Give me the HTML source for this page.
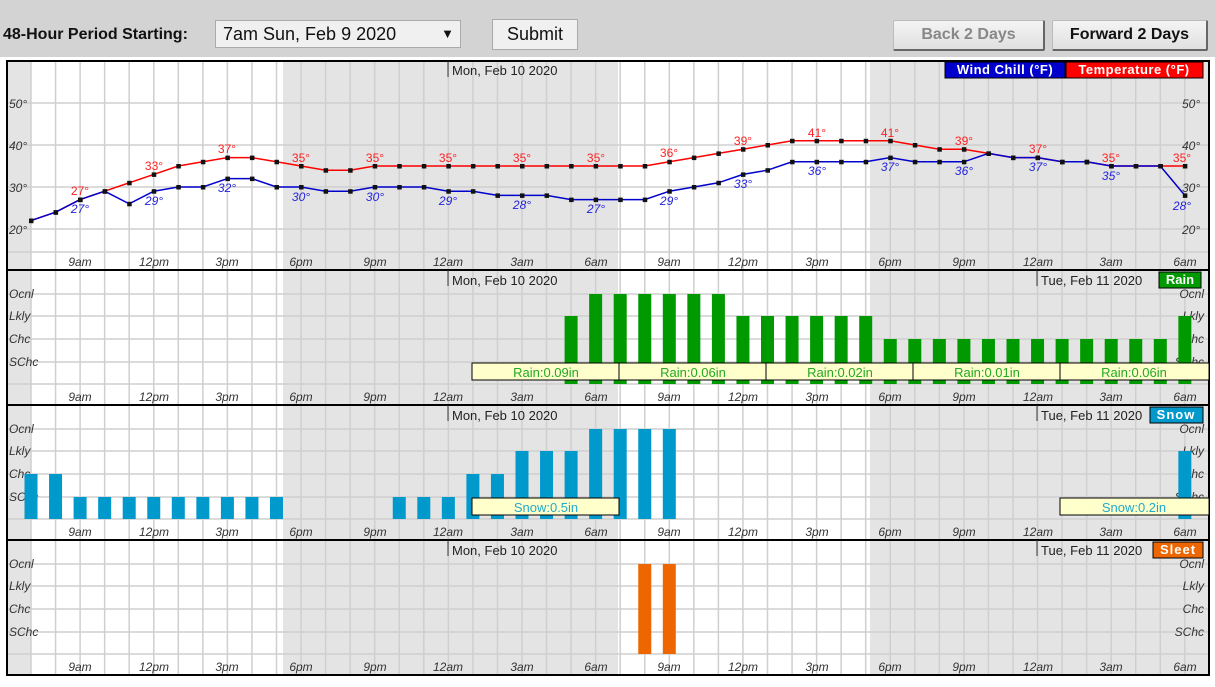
<!DOCTYPE html>
<html><head><meta charset="utf-8"><style>
body{margin:0;width:1215px;height:687px;background:#fff;font-family:"Liberation Sans",sans-serif;overflow:hidden;position:relative}
#top{position:absolute;left:0;top:0;width:1215px;height:57px;background:#d3d3d3}
.lbl{position:absolute;left:3px;top:26px;font-weight:bold;font-size:16px;color:#111}
.sel{position:absolute;left:215px;top:20px;width:246px;height:28px;border:1px solid #aaa;background:#f0f0f0;box-sizing:border-box;font-size:18px;padding:3px 0 0 7px;color:#111}
.sel span{position:absolute;right:6px;top:5px;font-size:13px}
.btn{position:absolute;box-sizing:border-box;border:1px solid #aaa;background:#f0f0f0;font-size:18px;text-align:center;color:#111}
.nb{position:absolute;box-sizing:border-box;border:1px solid #bbb;border-right:2px solid #666;border-bottom:2px solid #666;background:linear-gradient(#f4f4f4,#e0e0e0);font-size:16px;text-align:center;font-weight:bold;padding-top:5px;border-radius:2px}
svg{position:absolute;left:0;top:0}
svg text{font-family:"Liberation Sans",sans-serif}
.ax{font-size:12px;font-style:italic;fill:#333}
.dt{font-size:13px;fill:#222}
</style></head><body>
<div id="top">
<div class="lbl">48-Hour Period Starting:</div>
<div class="sel">7am Sun, Feb 9 2020<span>▼</span></div>
<div class="btn" style="left:492px;top:19px;width:86px;height:31px;padding-top:4px">Submit</div>
<div class="nb" style="left:893px;top:20px;width:152px;height:31px;color:#888">Back 2 Days</div>
<div class="nb" style="left:1052px;top:20px;width:156px;height:31px;color:#111">Forward 2 Days</div>
</div>
<svg id="s" width="1215" height="687" xmlns="http://www.w3.org/2000/svg">
<g id="bg"></g>
<g id="fg"></g>
<g class="ax">
<text x="9" y="108">50°</text><text x="9" y="150">40°</text><text x="9" y="192">30°</text><text x="9" y="234">20°</text>
<text x="1182" y="108">50°</text><text x="1182" y="150">40°</text><text x="1182" y="192">30°</text><text x="1182" y="234">20°</text>
</g>
<g class="ax" text-anchor="middle">
<text x="80" y="266">9am</text><text x="154" y="266">12pm</text><text x="227" y="266">3pm</text><text x="301" y="266">6pm</text><text x="375" y="266">9pm</text><text x="448" y="266">12am</text><text x="522" y="266">3am</text><text x="596" y="266">6am</text><text x="669" y="266">9am</text><text x="743" y="266">12pm</text><text x="817" y="266">3pm</text><text x="890" y="266">6pm</text><text x="964" y="266">9pm</text><text x="1038" y="266">12am</text><text x="1111" y="266">3am</text><text x="1185" y="266">6am</text>
<text x="80" y="401">9am</text><text x="154" y="401">12pm</text><text x="227" y="401">3pm</text><text x="301" y="401">6pm</text><text x="375" y="401">9pm</text><text x="448" y="401">12am</text><text x="522" y="401">3am</text><text x="596" y="401">6am</text><text x="669" y="401">9am</text><text x="743" y="401">12pm</text><text x="817" y="401">3pm</text><text x="890" y="401">6pm</text><text x="964" y="401">9pm</text><text x="1038" y="401">12am</text><text x="1111" y="401">3am</text><text x="1185" y="401">6am</text>
<text x="80" y="536">9am</text><text x="154" y="536">12pm</text><text x="227" y="536">3pm</text><text x="301" y="536">6pm</text><text x="375" y="536">9pm</text><text x="448" y="536">12am</text><text x="522" y="536">3am</text><text x="596" y="536">6am</text><text x="669" y="536">9am</text><text x="743" y="536">12pm</text><text x="817" y="536">3pm</text><text x="890" y="536">6pm</text><text x="964" y="536">9pm</text><text x="1038" y="536">12am</text><text x="1111" y="536">3am</text><text x="1185" y="536">6am</text>
<text x="80" y="671">9am</text><text x="154" y="671">12pm</text><text x="227" y="671">3pm</text><text x="301" y="671">6pm</text><text x="375" y="671">9pm</text><text x="448" y="671">12am</text><text x="522" y="671">3am</text><text x="596" y="671">6am</text><text x="669" y="671">9am</text><text x="743" y="671">12pm</text><text x="817" y="671">3pm</text><text x="890" y="671">6pm</text><text x="964" y="671">9pm</text><text x="1038" y="671">12am</text><text x="1111" y="671">3am</text><text x="1185" y="671">6am</text>
</g>
<g class="ax">
<text x="9" y="298">Ocnl</text><text x="9" y="320">Lkly</text><text x="9" y="343">Chc</text><text x="9" y="366">SChc</text>
<text x="9" y="433">Ocnl</text><text x="9" y="455">Lkly</text><text x="9" y="478">Chc</text><text x="9" y="501">SChc</text>
<text x="9" y="568">Ocnl</text><text x="9" y="590">Lkly</text><text x="9" y="613">Chc</text><text x="9" y="636">SChc</text>
</g>
<g class="ax" text-anchor="end">
<text x="1204" y="298">Ocnl</text><text x="1204" y="320">Lkly</text><text x="1204" y="343">Chc</text><text x="1204" y="366">SChc</text>
<text x="1204" y="433">Ocnl</text><text x="1204" y="455">Lkly</text><text x="1204" y="478">Chc</text><text x="1204" y="501">SChc</text>
<text x="1204" y="568">Ocnl</text><text x="1204" y="590">Lkly</text><text x="1204" y="613">Chc</text><text x="1204" y="636">SChc</text>
</g>
<g id="bars"></g>
<g id="lines"></g>
<g font-size="12" fill="#ff2222" text-anchor="middle">
<text x="80" y="195">27°</text><text x="154" y="170">33°</text><text x="227" y="153">37°</text><text x="301" y="162">35°</text><text x="375" y="162">35°</text><text x="448" y="162">35°</text><text x="522" y="162">35°</text><text x="596" y="162">35°</text><text x="669" y="157">36°</text><text x="743" y="145">39°</text><text x="817" y="137">41°</text><text x="890" y="137">41°</text><text x="964" y="145">39°</text><text x="1038" y="153">37°</text><text x="1111" y="162">35°</text><text x="1182" y="162">35°</text>
</g>
<g font-size="12" fill="#2222dd" text-anchor="middle" font-style="italic">
<text x="80" y="213">27°</text><text x="154" y="205">29°</text><text x="227" y="192">32°</text><text x="301" y="201">30°</text><text x="375" y="201">30°</text><text x="448" y="205">29°</text><text x="522" y="209">28°</text><text x="596" y="213">27°</text><text x="669" y="205">29°</text><text x="743" y="188">33°</text><text x="817" y="175">36°</text><text x="890" y="171">37°</text><text x="964" y="175">36°</text><text x="1038" y="171">37°</text><text x="1111" y="180">35°</text><text x="1182" y="210">28°</text>
</g>
<g class="dt">
<text x="452" y="75">Mon, Feb 10 2020</text>
<text x="452" y="285">Mon, Feb 10 2020</text><text x="1041" y="285">Tue, Feb 11 2020</text>
<text x="452" y="420">Mon, Feb 10 2020</text><text x="1041" y="420">Tue, Feb 11 2020</text>
<text x="452" y="555">Mon, Feb 10 2020</text><text x="1041" y="555">Tue, Feb 11 2020</text>
</g>
<g id="boxes"></g>
<g font-size="13" text-anchor="middle" fill="#22aa22">
<text x="546" y="377">Rain:0.09in</text><text x="693" y="377">Rain:0.06in</text><text x="840" y="377">Rain:0.02in</text><text x="987" y="377">Rain:0.01in</text><text x="1134" y="377">Rain:0.06in</text>
</g>
<g font-size="13" text-anchor="middle" fill="#22aacc">
<text x="546" y="512">Snow:0.5in</text><text x="1134" y="512">Snow:0.2in</text>
</g>
<rect x="945" y="62" width="120" height="16" fill="#0000cc" stroke="#000"/>
<rect x="1066" y="62" width="137" height="16" fill="#ff0000" stroke="#000"/>
<text x="1005" y="74" font-size="13" font-weight="bold" fill="#fff" text-anchor="middle" letter-spacing="0.5">Wind Chill (°F)</text>
<text x="1134" y="74" font-size="13" font-weight="bold" fill="#fff" text-anchor="middle" letter-spacing="0.5">Temperature (°F)</text>
<rect x="1159" y="272" width="42" height="16" fill="#009900" stroke="#000"/>
<text x="1180" y="284" font-size="13" font-weight="bold" fill="#fff" text-anchor="middle">Rain</text>
<rect x="1150" y="407" width="53" height="16" fill="#0099cc" stroke="#000"/>
<text x="1176" y="419" font-size="13" font-weight="bold" fill="#fff" text-anchor="middle" letter-spacing="1">Snow</text>
<rect x="1153" y="542" width="50" height="16" fill="#ee6600" stroke="#000"/>
<text x="1178" y="554" font-size="13" font-weight="bold" fill="#fff" text-anchor="middle" letter-spacing="1">Sleet</text>
</svg>
<script>
var NS="http://www.w3.org/2000/svg";
function el(p,t,a){var e=document.createElementNS(NS,t);for(var k in a)e.setAttribute(k,a[k]);document.getElementById(p).appendChild(e);return e;}
function X(i){return 31+24.55*i;}
var panels=[[61,270],[270,405],[405,540],[540,675]];
panels.forEach(function(p,pi){
  el("bg","rect",{x:7,y:p[0],width:1202,height:p[1]-p[0],fill:"#fff"});
  el("bg","rect",{x:7,y:p[0],width:24,height:p[1]-p[0],fill:"#e4e4e4"});
  el("bg","rect",{x:283,y:p[0],width:335,height:p[1]-p[0],fill:"#e4e4e4"});
  el("bg","rect",{x:870,y:p[0],width:339,height:p[1]-p[0],fill:"#e4e4e4"});
  for(var i=0;i<48;i++)el("bg","line",{x1:X(i),x2:X(i),y1:p[0],y2:p[1],stroke:"#cfcfcf","stroke-width":1.5});
  var hs=pi==0?[103,145,187,229,252]:[p[0]+24,p[0]+46,p[0]+69,p[0]+92,p[0]+114];
  hs.forEach(function(y){el("bg","line",{x1:7,x2:1209,y1:y,y2:y,stroke:"#cfcfcf","stroke-width":1.5});});
  el("fg","rect",{x:7,y:p[0],width:1202,height:p[1]-p[0],fill:"none",stroke:"#000","stroke-width":2});
  if(pi>0){el("fg","line",{x1:448,x2:448,y1:p[0],y2:p[0]+16,stroke:"#333"});el("fg","line",{x1:1037,x2:1037,y1:p[0],y2:p[0]+16,stroke:"#333"});}
  else el("fg","line",{x1:448,x2:448,y1:p[0],y2:p[0]+16,stroke:"#333"});
});
function bars(base,list,col){list.forEach(function(b){var top=base-[0,22,45,68,90][b[1]];el("bars","rect",{x:X(b[0])-6.5,y:top,width:13,height:base-top,fill:col});});}
var rain=[[22,3]];for(var i=23;i<=28;i++)rain.push([i,4]);for(i=29;i<=34;i++)rain.push([i,3]);for(i=35;i<=46;i++)rain.push([i,2]);rain.push([47,3]);
bars(384,rain,"#009900");
var snow=[[0,2],[1,2]];for(i=2;i<=10;i++)snow.push([i,1]);snow.push([15,1],[16,1],[17,1],[18,2],[19,2],[20,3],[21,3],[22,3],[23,4],[24,4],[25,4],[26,4],[47,3]);
bars(519,snow,"#0099cc");
bars(654,[[25,4],[26,4]],"#ee6600");
[[472,619],[619,766],[766,913],[913,1060],[1060,1209]].forEach(function(b){el("boxes","rect",{x:b[0],y:363,width:b[1]-b[0],height:17,fill:"#ffffcc",stroke:"#000"});});
[[472,619],[1060,1209]].forEach(function(b){el("boxes","rect",{x:b[0],y:498,width:b[1]-b[0],height:17,fill:"#ffffcc",stroke:"#000"});});
var red=[22,24,27,29,31,33,35,36,37,37,36,35,34,34,35,35,35,35,35,35,35,35,35,35,35,35,36,37,38,39,40,41,41,41,41,41,40,39,39,38,37,37,36,36,35,35,35,35];
var blue=[22,24,27,29,26,29,30,30,32,32,30,30,29,29,30,30,30,29,29,28,28,28,27,27,27,27,29,30,31,33,34,36,36,36,36,37,36,36,36,38,37,37,36,36,35,35,35,28];
function Y(t){return 187-(t-30)*4.2;}
function pl(d,c){el("lines","polyline",{points:d.map(function(t,i){return X(i)+","+Y(t);}).join(" "),fill:"none",stroke:c,"stroke-width":1.5});}
pl(red,"#ff0000");pl(blue,"#0000cc");
red.forEach(function(t,i){el("lines","rect",{x:X(i)-2,y:Y(t)-2,width:4.5,height:4.5,fill:"#111"});});
blue.forEach(function(t,i){el("lines","rect",{x:X(i)-2,y:Y(t)-2,width:4.5,height:4.5,fill:"#111"});});
</script>
</body></html>
